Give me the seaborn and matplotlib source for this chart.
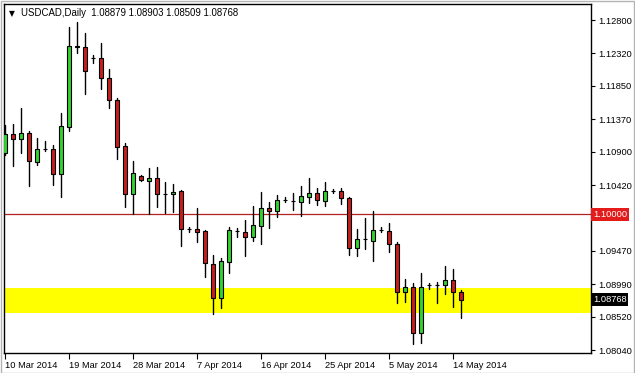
import numpy as np
import pandas as pd
import matplotlib
matplotlib.use("Agg")
import matplotlib.pyplot as plt
from matplotlib.patches import Rectangle
import seaborn as sns

# ---------------- data ----------------
symbol = "USDCAD"
period = "Daily"
date_labels = ["10 Mar 2014", "19 Mar 2014", "28 Mar 2014", "7 Apr 2014",
               "16 Apr 2014", "25 Apr 2014", "5 May 2014", "14 May 2014"]

opens = [1.10882, 1.11156, 1.11080, 1.11166, 1.10757, 1.10946, 1.10936, 1.10575,
         1.11261, 1.12415, 1.12406, 1.12256, 1.12248, 1.11959, 1.11646, 1.10983,
         1.10287, 1.10550, 1.10483, 1.10517, 1.10287, 1.10287, 1.10334, 1.09786,
         1.09782, 1.09757, 1.09277, 1.08787, 1.09315, 1.09753, 1.09739, 1.09667,
         1.09834, 1.10085, 1.10050, 1.10204, 1.10190, 1.10180, 1.10252, 1.10305,
         1.10194, 1.10334, 1.10334, 1.10233, 1.09517, 1.09635, 1.09618, 1.09767,
         1.09757, 1.09566, 1.08882, 1.08954, 1.08291, 1.08974, 1.08979, 1.08974,
         1.09051, 1.08879]
highs = [1.11286, 1.11300, 1.11527, 1.11199, 1.11094, 1.11060, 1.10998, 1.11455,
         1.12703, 1.12775, 1.12608, 1.12295, 1.12464, 1.12093, 1.11675, 1.11031,
         1.10767, 1.10565, 1.10666, 1.10685, 1.10460, 1.10435, 1.10349, 1.09819,
         1.10085, 1.09765, 1.09411, 1.09364, 1.09811, 1.09796, 1.09916, 1.10118,
         1.10324, 1.10180, 1.10277, 1.10243, 1.10301, 1.10406, 1.10526, 1.10382,
         1.10464, 1.10367, 1.10382, 1.10243, 1.09782, 1.09941, 1.10050, 1.09811,
         1.09877, 1.09594, 1.09065, 1.09012, 1.09147, 1.09003, 1.09018, 1.09253,
         1.09209, 1.08903]
lows = [1.10853, 1.10695, 1.10886, 1.10411, 1.10709, 1.10915, 1.10421, 1.10243,
        1.11204, 1.12320, 1.11726, 1.12176, 1.11812, 1.11535, 1.10791, 1.10108,
        1.10003, 1.10478, 1.10003, 1.10108, 1.10021, 1.10036, 1.09545, 1.09747,
        1.09592, 1.09098, 1.08556, 1.08651, 1.09156, 1.09675, 1.09401, 1.09618,
        1.09574, 1.09805, 1.09964, 1.10176, 1.10060, 1.09978, 1.10157, 1.10132,
        1.10122, 1.10301, 1.10147, 1.09411, 1.09397, 1.09498, 1.09329, 1.09739,
        1.09459, 1.08723, 1.08738, 1.08124, 1.08147, 1.08921, 1.08723, 1.08849,
        1.08666, 1.08509]
closes = [1.11156, 1.11080, 1.11166, 1.10771, 1.10936, 1.10942, 1.10575, 1.11271,
          1.12425, 1.12421, 1.12069, 1.12256, 1.11959, 1.11642, 1.10973, 1.10287,
          1.10589, 1.10488, 1.10522, 1.10287, 1.10287, 1.10324, 1.09782, 1.09786,
          1.09747, 1.09292, 1.08787, 1.09320, 1.09772, 1.09753, 1.09667, 1.09840,
          1.10085, 1.10050, 1.10200, 1.10204, 1.10190, 1.10262, 1.10305, 1.10204,
          1.10334, 1.10334, 1.10229, 1.09517, 1.09642, 1.09642, 1.09772, 1.09767,
          1.09566, 1.08882, 1.08954, 1.08291, 1.08946, 1.08974, 1.08979, 1.09051,
          1.08873, 1.08768]

ytick_values = [1.12800, 1.12320, 1.11850, 1.11370, 1.10900, 1.10420,
                1.09470, 1.08990, 1.08520, 1.08040]
ytick_labels = ["1.12800", "1.12320", "1.11850", "1.11370", "1.10900", "1.10420",
                "1.09470", "1.08990", "1.08520", "1.08040"]

level_price = 1.10000
zone_low = 1.08571
zone_high = 1.08931
label_step = 8

# ---------------- figure ----------------
sns.set_theme(style="white")
plt.rcParams["font.family"] = ["Liberation Sans", "DejaVu Sans"]

BULL = "#32d232"
BEAR = "#c81e1e"

fig = plt.figure(figsize=(6.35, 3.73), dpi=100)
fig.patch.set_facecolor("white")
ax = fig.add_axes([4 / 635, 1 - 353 / 373, 587 / 635, 349 / 373])
ax.set_facecolor("white")

n = len(opens)
idx = np.arange(n)
df = pd.DataFrame({"bar": idx, "open": opens, "high": highs,
                   "low": lows, "close": closes})

# wicks as seaborn lines (one unit per candle)
wick = pd.concat([
    df[["bar", "high"]].rename(columns={"high": "price"}),
    df[["bar", "low"]].rename(columns={"low": "price"}),
]).sort_values("bar")
sns.lineplot(data=wick, x="bar", y="price", units="bar", estimator=None,
             color="black", linewidth=1.0, sort=False, legend=False, ax=ax,
             zorder=2)

# support zone and level line
ax.axhspan(zone_low, zone_high, color="#ffff00", zorder=0, lw=0)
ax.axhline(level_price, color="#b22222", lw=0.9, zorder=1)

# bodies
bottoms = np.minimum(df["open"], df["close"])
heights = np.abs(df["close"] - df["open"])
colors = [BULL if c > o else BEAR for o, c in zip(df["open"], df["close"])]
ax.bar(idx, heights, bottom=bottoms, width=0.62, color=colors,
       edgecolor="black", linewidth=0.8, zorder=3)

# axes ranges
ax.set_xlim(-0.125, 73.25)
ax.set_ylim(1.07998, 1.13031)

# x ticks
xt = np.arange(len(date_labels)) * label_step
ax.set_xticks(xt)
ax.set_xticklabels(date_labels, ha="left", fontsize=6.7, color="black")
ax.tick_params(axis="x", direction="out", length=4, width=0.8, pad=1.5,
               bottom=True, colors="black")

# y ticks on right
ax.yaxis.tick_right()
ax.set_yticks(ytick_values)
ax.set_yticklabels(ytick_labels, fontsize=6.7, color="black")
ax.tick_params(axis="y", direction="out", length=3, width=0.8, pad=2,
               right=True, left=False, colors="black")
ax.set_xlabel("")
ax.set_ylabel("")

for s in ax.spines.values():
    s.set_visible(True)
    s.set_color("black")
    s.set_linewidth(1.0)

# price boxes on the right
ytr = ax.get_yaxis_transform()
ax.text(1.003, level_price, f"{level_price:.5f}", transform=ytr, ha="left",
        va="center", fontsize=6.7, color="white", clip_on=False, zorder=6,
        bbox=dict(boxstyle="square,pad=0.22", fc="#e31b1b", ec="none"))
ax.text(1.003, closes[-1], f"{closes[-1]:.5f}", transform=ytr, ha="left",
        va="center", fontsize=6.7, color="white", clip_on=False, zorder=6,
        bbox=dict(boxstyle="square,pad=0.22", fc="black", ec="none"))

# header
ax.text(0.0136, 0.974, "\u25BC", transform=ax.transAxes, ha="center",
        va="center", fontsize=5.5, family="DejaVu Sans", color="black")
header = (f"{symbol},{period}  {opens[-1]:.5f} {highs[-1]:.5f} "
          f"{lows[-1]:.5f} {closes[-1]:.5f}")
ax.text(0.029, 0.974, header, transform=ax.transAxes, ha="left",
        va="center", fontsize=6.9, color="black")

# thin grey window frame
fig.patches.append(Rectangle((0.5 / 635, 0.5 / 373), 633.5 / 635, 371.5 / 373,
                             transform=fig.transFigure, fill=False,
                             ec="#b4b4b4", lw=1.0, zorder=10))

fig.savefig("out.png", dpi=100, facecolor="white")
